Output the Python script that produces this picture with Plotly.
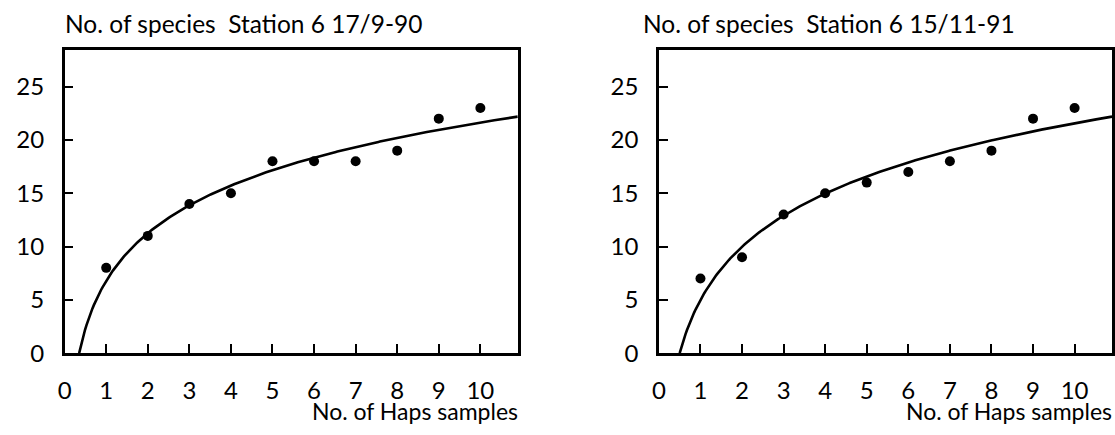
import numpy as np
import plotly.graph_objects as go

# ---- data ----
samples = [1, 2, 3, 4, 5, 6, 7, 8, 9, 10]
species_1990 = [8, 11, 14, 15, 18, 18, 18, 19, 22, 23]
species_1991 = [7, 9, 13, 15, 16, 17, 18, 19, 22, 23]

# logarithmic fit curves y = a + b*ln(x), parameters
fit_1990 = (6.78, 6.45)
fit_1991 = (4.99, 7.20)

titles = ["No. of species  Station 6 17/9-90", "No. of species  Station 6 15/11-91"]
x_title = "No. of Haps samples"
x_ticks = [0, 1, 2, 3, 4, 5, 6, 7, 8, 9, 10]
y_ticks = [0, 5, 10, 15, 20, 25]
X_MAX = 10.9
Y_MAX = 28.4

FONT = "Lato"
W, H = 1115, 435

fig = go.Figure()


def curve(params):
    a, b = params
    x0 = np.exp(-a / b)
    xs = np.linspace(x0, X_MAX, 300)
    return xs, a + b * np.log(xs)


panels = [
    ("x", "y", species_1990, fit_1990, [58 / W, 514 / W]),
    ("x2", "y2", species_1991, fit_1991, [656 / W, 1112 / W]),
]

for xa, ya, vals, fit, dom in panels:
    cx, cy = curve(fit)
    fig.add_trace(go.Scatter(x=cx, y=cy, mode="lines", xaxis=xa, yaxis=ya,
                             line=dict(color="black", width=2.6),
                             showlegend=False, hoverinfo="skip"))
    fig.add_trace(go.Scatter(x=samples, y=vals, mode="markers", xaxis=xa, yaxis=ya,
                             marker=dict(color="black", size=10),
                             showlegend=False))

ydom = [1 - 364 / H, 1 - 52 / H]
axis_common = dict(showline=True, linecolor="black", linewidth=2.5, mirror=True,
                   ticks="inside", ticklen=9, tickwidth=2, tickcolor="black",
                   showgrid=False, zeroline=False,
                   tickfont=dict(family=FONT, size=24, color="black"))

layout = dict(
    width=W, height=H, margin=dict(l=0, r=0, t=0, b=0),
    paper_bgcolor="white", plot_bgcolor="white",
    font=dict(family=FONT, color="black"),
)
for i, (xa, ya, vals, fit, dom) in enumerate(panels):
    xk = "xaxis" if i == 0 else "xaxis2"
    yk = "yaxis" if i == 0 else "yaxis2"
    layout[xk] = dict(axis_common, domain=dom, range=[0, X_MAX], tickvals=x_ticks,
                      anchor=ya, ticklabelstandoff=14)
    layout[yk] = dict(axis_common, domain=ydom, range=[0, Y_MAX], tickvals=y_ticks,
                      anchor=xa, ticklabelstandoff=13)

fig.update_layout(**layout)

annotations = []
title_x = [56, 638]
right_x = [516, 1114]
for i in range(2):
    annotations.append(dict(text=titles[i], x=title_x[i] / W, y=1 - 24 / H,
                            xref="paper", yref="paper", xanchor="left", yanchor="middle",
                            showarrow=False, font=dict(family=FONT, size=24.5, color="black")))
    annotations.append(dict(text=x_title, x=right_x[i] / W, y=1 - 424 / H,
                            xref="paper", yref="paper", xanchor="right", yanchor="middle",
                            showarrow=False, font=dict(family=FONT, size=23, color="black")))
fig.update_layout(annotations=annotations)

fig.write_html("out.html")
